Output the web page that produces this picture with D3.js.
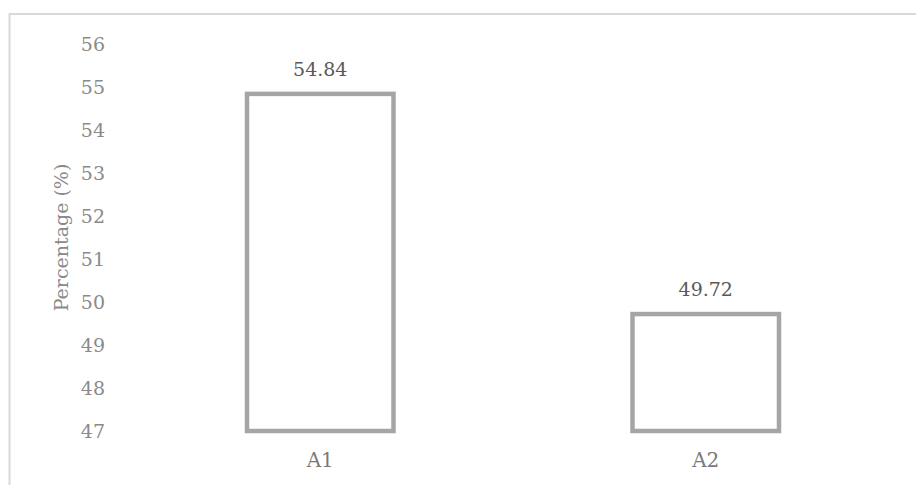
<!DOCTYPE html>
<html>
<head>
<meta charset="utf-8">
<script src="https://cdn.jsdelivr.net/npm/d3@7"></script>
<style>
  body { margin: 0; background: #fff; }
  svg { display: block; font-family: "DejaVu Serif", serif; }
</style>
</head>
<body>
<div id="chart"></div>
<script>
  const categories = ["A1", "A2"];
  const values = [54.84, 49.72];
  const yTicks = [47, 48, 49, 50, 51, 52, 53, 54, 55, 56];

  const width = 916,
    height = 485;

  const svg = d3.select("#chart")
    .append("svg")
    .attr("width", width)
    .attr("height", height);

  // chart frame (only top and left edges show in the crop)
  svg.append("rect")
    .attr("x", 9.5)
    .attr("y", 14)
    .attr("width", width + 20)
    .attr("height", height + 20)
    .attr("fill", "none")
    .attr("stroke", "#d9d9d9")
    .attr("stroke-width", 2);

  const x = d3.scaleBand()
    .domain(categories)
    .range([127.5, 898.5])
    .paddingInner(0.62)
    .paddingOuter(0.31);

  const y = d3.scaleLinear()
    .domain([47, 56])
    .range([431, 44]);

  const yAxis = svg.append("g")
    .attr("transform", "translate(113,0)")
    .call(d3.axisLeft(y).tickValues(yTicks).tickSize(0).tickPadding(8).tickFormat(d3.format("d")));
  yAxis.select(".domain").remove();
  yAxis.selectAll("text")
    .attr("font-family", "DejaVu Serif")
    .attr("font-size", 19)
    .attr("fill", "#8a8a8a");

  const xAxis = svg.append("g")
    .attr("transform", "translate(0,431)")
    .call(d3.axisBottom(x).tickSize(0).tickPadding(22));
  xAxis.select(".domain").remove();
  xAxis.selectAll("text")
    .attr("font-family", "DejaVu Serif")
    .attr("font-size", 20)
    .attr("fill", "#7a7a7a");

  svg.append("text")
    .attr("transform", `translate(68,${(y(47) + y(56)) / 2}) rotate(-90)`)
    .attr("text-anchor", "middle")
    .attr("font-size", 19)
    .attr("fill", "#8a8a8a")
    .text("Percentage (%)");

  const data = categories.map((c, i) => ({ cat: c, value: values[i] }));

  svg.append("g")
    .selectAll("rect")
    .data(data)
    .join("rect")
    .attr("x", d => x(d.cat))
    .attr("y", d => y(d.value))
    .attr("width", x.bandwidth())
    .attr("height", d => y(47) - y(d.value))
    .attr("fill", "#fff")
    .attr("stroke", "#a5a5a5")
    .attr("stroke-width", 4.5);

  svg.append("g")
    .attr("text-anchor", "middle")
    .attr("font-size", 19)
    .attr("fill", "#595959")
    .selectAll("text")
    .data(data)
    .join("text")
    .attr("x", d => x(d.cat) + x.bandwidth() / 2)
    .attr("y", d => y(d.value) - 18)
    .text(d => d.value.toFixed(2));
</script>
</body>
</html>
